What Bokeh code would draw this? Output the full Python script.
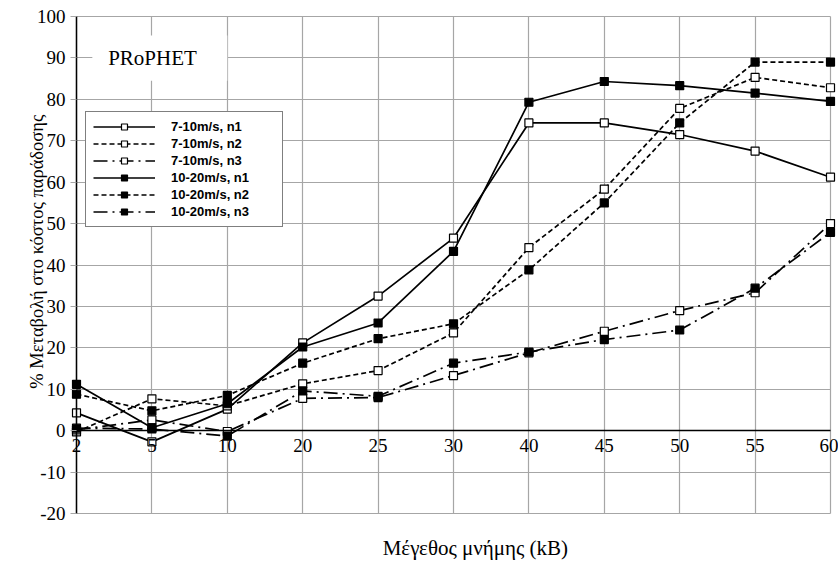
from math import pi

from bokeh.plotting import figure
from bokeh.models import (Range1d, FixedTicker, Grid, LinearAxis,
                          ColumnDataSource, Legend, LegendItem)
from bokeh.core.properties import value
from bokeh.embed import file_html
from bokeh.resources import INLINE

# Memory sizes (kB) on the horizontal axis, equally spaced
memory_kb = ["2", "5", "10", "20", "25", "30", "40", "45", "50", "55", "60"]

# % change in delivery cost per speed range and n
speed_7_10_n1 = [4.3, -2.7, 5.2, 21.2, 32.5, 46.5, 74.3, 74.3, 71.5, 67.5, 61.2]
speed_7_10_n2 = [-0.3, 7.7, 6.0, 11.3, 14.5, 23.6, 44.2, 58.3, 77.8, 85.3, 82.8]
speed_7_10_n3 = [0.2, 2.6, -0.2, 7.8, 8.0, 13.3, 18.8, 24.0, 29.0, 33.3, 50.0]
speed_10_20_n1 = [11.2, 0.7, 6.5, 20.2, 26.0, 43.3, 79.3, 84.3, 83.3, 81.5, 79.5]
speed_10_20_n2 = [8.8, 4.8, 8.5, 16.3, 22.2, 25.8, 38.8, 55.0, 74.3, 89.0, 89.0]
speed_10_20_n3 = [0.6, 0.4, -1.3, 9.6, 8.3, 16.3, 19.0, 22.0, 24.3, 34.4, 47.9]

series_names = ["7-10m/s, n1", "7-10m/s, n2", "7-10m/s, n3",
                "10-20m/s, n1", "10-20m/s, n2", "10-20m/s, n3"]
series_values = [speed_7_10_n1, speed_7_10_n2, speed_7_10_n3,
                 speed_10_20_n1, speed_10_20_n2, speed_10_20_n3]

y_ticks = list(range(-20, 101, 10))
Y_MIN, Y_MAX = -20, 100

SERIF = "Liberation Serif"
GRID = "#a6a6a6"
W, H = 838, 563

# plotting area inside the canvas (px); the frame spans the whole canvas so
# the axes are drawn at fixed data locations inside it
AREA_L, AREA_R, AREA_T, AREA_B = 76, 830, 16, 513

x_pos = list(range(len(memory_kb)))
n_last = len(memory_kb) - 1
px_per_x = (AREA_R - AREA_L) / n_last
px_per_y = (AREA_B - AREA_T) / (Y_MAX - Y_MIN)

p = figure(width=W, height=H, output_backend="svg", toolbar_location=None,
           x_axis_type=None, y_axis_type=None,
           x_range=Range1d(-AREA_L / px_per_x, n_last + (W - AREA_R) / px_per_x),
           y_range=Range1d(Y_MIN - (H - AREA_B) / px_per_y, Y_MAX + AREA_T / px_per_y),
           min_border=0)
p.outline_line_color = None
p.background_fill_color = "white"
p.border_fill_color = "white"

# gridlines limited to the plotting area
p.add_layout(Grid(dimension=1, ticker=FixedTicker(ticks=y_ticks),
                  cross_bounds=(0, n_last),
                  grid_line_color=GRID, grid_line_width=1.2))
p.add_layout(Grid(dimension=0, ticker=FixedTicker(ticks=x_pos),
                  cross_bounds=(Y_MIN, Y_MAX),
                  grid_line_color=GRID, grid_line_width=1.2))

# value axis at the first memory size
yax = LinearAxis(fixed_location=0, bounds=(Y_MIN, Y_MAX),
                 ticker=FixedTicker(ticks=y_ticks),
                 major_label_overrides={t: str(t) for t in y_ticks},
                 axis_line_color="black", axis_line_width=1.5,
                 major_tick_out=6, major_tick_in=0,
                 minor_tick_out=0, minor_tick_in=0,
                 major_tick_line_color=GRID,
                 major_label_text_font=SERIF, major_label_text_font_size="19px",
                 major_label_text_color="black", major_label_standoff=5)
p.add_layout(yax, "left")

# memory-size axis running through zero
xax = LinearAxis(fixed_location=0, bounds=(0, n_last),
                 ticker=FixedTicker(ticks=x_pos),
                 major_label_overrides=dict(zip(x_pos, memory_kb)),
                 axis_line_color="black", axis_line_width=1.5,
                 major_tick_out=0, major_tick_in=0,
                 minor_tick_out=0, minor_tick_in=0,
                 major_label_text_font=SERIF, major_label_text_font_size="19px",
                 major_label_text_color="black", major_label_standoff=8)
p.add_layout(xax, "below")

# series styles: n1 solid, n2 dashed, n3 dash-dot; open vs filled squares
dashes = ["solid", "5 3", "14 5 2 5"]
items = []
for i, (name, vals) in enumerate(zip(series_names, series_values)):
    src = ColumnDataSource(dict(x=x_pos, y=vals))
    dash = dashes[i % 3]
    filled = i >= 3
    ln = p.line("x", "y", source=src, line_color="black", line_width=1.7,
                line_dash=dash)
    mk = p.scatter("x", "y", source=src, marker="square", size=8,
                   line_color="black", line_width=1.2,
                   fill_color="black" if filled else "white")
    items.append(LegendItem(label=name, renderers=[ln, mk]))

legend = Legend(items=items, location=(85, H - 227), orientation="vertical",
                border_line_color="black", border_line_width=1.5,
                background_fill_color="white", background_fill_alpha=1,
                label_text_font="Liberation Sans", label_text_font_style="bold",
                label_text_font_size="13px", label_text_color="black",
                glyph_width=62, glyph_height=15, label_height=15,
                label_width=104, label_standoff=16,
                spacing=2, padding=7, margin=0)
p.add_layout(legend, "center")

# routing protocol tag on a white patch
p.quad(left=[0.21], right=[2.0], bottom=[84.5], top=[95.4],
       fill_color="white", line_color=None)
p.text(x=[0.42], y=[90.1], text=["PRoPHET"], text_font=value(SERIF),
       text_font_size="21px", text_baseline="middle", text_color="black")

# axis titles
p.text(x=[5.29], y=[-28.4], text=["Μέγεθος μνήμης (kB)"], text_font=value(SERIF),
       text_font_size="21px", text_align="center", text_baseline="middle",
       text_color="black")
p.text(x=[-0.53], y=[43.2], text=["% Μεταβολή στο κόστος παράδοσης"],
       angle=pi / 2, text_font=value(SERIF), text_font_size="18.5px",
       text_align="center", text_baseline="middle", text_color="black")

open("out.html", "w").write(file_html(p, INLINE))
